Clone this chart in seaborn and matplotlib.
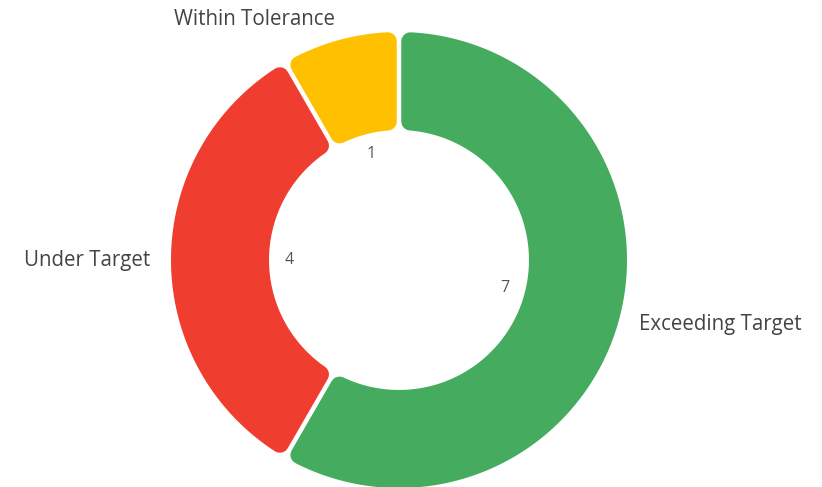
import numpy as np
import matplotlib
matplotlib.use("Agg")
import matplotlib.pyplot as plt
from matplotlib.path import Path
from matplotlib.patches import PathPatch
import seaborn as sns

categories = ["Exceeding Target", "Under Target", "Within Tolerance"]
values = [7, 4, 1]
colors = ["#44AB5F", "#EF3E2F", "#FFC000"]

sns.set_theme(style="white")
plt.rcParams["font.family"] = ["Open Sans", "DejaVu Sans"]

W, H, DPI = 822, 487, 100
cx, cy = 399, 260          # centre in pixels (from top)
R_px = 228                 # outer radius in pixels

fig = plt.figure(figsize=(W / DPI, H / DPI), dpi=DPI)
ax = fig.add_axes([0, 0, 1, 1])

wedges, texts, autotexts = ax.pie(
    values, labels=categories, startangle=90, counterclock=False,
    radius=1.0, labeldistance=1.09, pctdistance=0.48,
    autopct=lambda p: f"{p * sum(values) / 100:.0f}",
    wedgeprops=dict(width=0.43),
    textprops=dict(color="#444444", fontsize=14.8),
)
for t in autotexts:
    t.set_color("#555555")
    t.set_fontsize(11.5)

# Redraw each ring segment with rounded corners and gaps
R_out, R_in = 1.0, 0.57
rc = 9 / R_px          # corner radius in data units
gap = 4.5 / R_px       # gap width in data units
d = rc + gap / 2
Ro, Ri = R_out - rc, R_in + rc
lw_pt = 2 * 9 * 72 / DPI

for w, col in zip(wedges, colors):
    w.set_visible(False)
    a1, a2 = np.deg2rad(w.theta1), np.deg2rad(w.theta2)
    ao1, ao2 = a1 + np.arcsin(d / Ro), a2 - np.arcsin(d / Ro)
    ai1, ai2 = a1 + np.arcsin(d / Ri), a2 - np.arcsin(d / Ri)
    to = np.linspace(ao1, ao2, 200)
    ti = np.linspace(ai2, ai1, 200)
    xs = np.concatenate([Ro * np.cos(to), Ri * np.cos(ti)])
    ys = np.concatenate([Ro * np.sin(to), Ri * np.sin(ti)])
    verts = np.column_stack([xs, ys])
    verts = np.vstack([verts, verts[:1]])
    codes = [Path.MOVETO] + [Path.LINETO] * (len(verts) - 2) + [Path.CLOSEPOLY]
    patch = PathPatch(Path(verts, codes), facecolor=col, edgecolor=col,
                      linewidth=lw_pt, joinstyle="round", zorder=1)
    ax.add_patch(patch)

ax.set_aspect("auto")
ax.set_xlim(-cx / R_px, (W - cx) / R_px)
ax.set_ylim(-(H - cy) / R_px, cy / R_px)
ax.axis("off")

fig.savefig("out.png", dpi=DPI)
